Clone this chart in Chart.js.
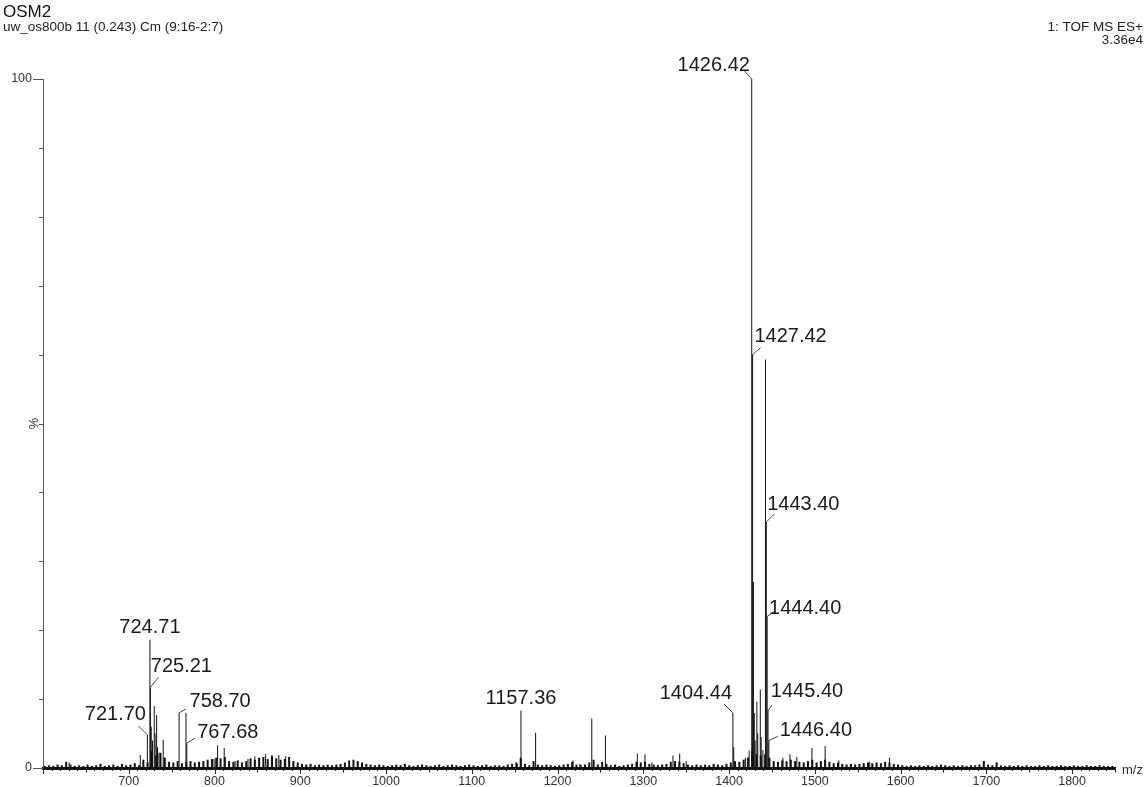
<!DOCTYPE html>
<html lang="en">
<head>
<meta charset="UTF-8">
<title>OSM2 - TOF MS ES+</title>
<script src="https://cdn.jsdelivr.net/npm/chart.js"></script>
<style>
  html, body { margin: 0; padding: 0; background: #fff; }
  #wrap { width: 1146px; height: 787px; position: relative; }
</style>
</head>
<body>
<div id="wrap"><canvas id="msChart"></canvas></div>
<script>
  // centroid peaks (m/z and relative intensity %)
  const peakMz = [
    630.4, 713.4, 721.70, 724.71, 725.21, 726.2, 727.7, 729.7, 730.7, 732.5, 733.5, 735.2, 740.2,
    758.70, 766.7, 767.68, 799.5, 803.6, 811.3, 824.0, 839.0, 847.0, 859.6, 867.0, 875.0, 883.0,
    1153.0, 1157.36, 1174.4, 1218.0, 1226.0, 1239.9, 1255.8, 1293.0, 1302.0, 1310.0, 1334.6, 1342.4, 1350.0,
    1404.44, 1405.4, 1419.0, 1423.4, 1426.42, 1427.42, 1428.42, 1429.4, 1430.4, 1432.4, 1433.4, 1436.4,
    1437.4, 1439.4, 1442.41, 1443.40, 1444.40, 1445.40, 1446.40, 1462.8, 1471.0, 1479.0, 1496.6,
    1512.0, 1528.0, 1564.0, 1587.0, 1697.0, 1712.0
  ];
  const peakInt = [
    0.8, 1.9, 4.8, 18.6, 11.7, 6.0, 4.0, 9.0, 5.0, 7.7, 3.0, 2.2, 4.1,
    8.0, 8.0, 3.6, 1.3, 3.3, 2.9, 1.0, 1.3, 1.7, 2.0, 1.9, 1.9, 1.7,
    0.6, 8.3, 5.1, 1.1, 0.6, 7.2, 4.7, 2.1, 2.0, 0.8, 1.8, 2.1, 1.0,
    8.0, 3.0, 1.5, 2.5, 100, 60.0, 27.0, 8.0, 4.0, 9.6, 5.0, 11.4,
    4.5, 2.6, 59.3, 35.7, 22.0, 8.3, 4.0, 1.5, 2.0, 1.6, 2.9,
    3.2, 1.1, 0.9, 1.5, 1.0, 0.8
  ];

  // baseline noise, one reading every 5 m/z from 602 up to 1847
  const noiseStart = 602;
  const noiseStep = 5;
  const noiseInt = [
    0.3, 0.4, 0.3, 0.5, 0.4, 0.9, 0.5, 0.3, 0.4, 0.3, 0.5, 0.3, 0.4, 0.6, 0.3, 0.4, 0.5, 0.3, 0.6, 0.4, 0.5, 0.7, 0.4, 1.2, 0.8,
    2.5, 1.8, 2.2, 1.5, 0.9, 0.8, 1.0, 0.7, 0.9, 1.0, 0.8, 0.9, 1.0, 1.2, 1.3, 1.5, 1.4, 1.6, 1.0, 0.9, 1.1, 0.8, 1.0, 1.4, 1.2,
    1.5, 1.6, 1.3, 1.7, 1.4, 1.2, 1.3, 1.6, 1.0, 0.8, 0.6, 0.5, 0.6, 0.4, 0.5, 0.4, 0.5, 0.4, 0.5, 0.6, 0.8, 1.1, 1.2, 1.0, 0.8,
    0.6, 0.5, 0.4, 0.5, 0.4, 0.3, 0.4, 0.5, 0.4, 0.6, 0.4, 0.3, 0.4, 0.5, 0.4, 0.3, 0.4, 0.5, 0.3, 0.4, 0.5, 0.4, 0.3, 0.4, 0.5,
    0.4, 0.3, 0.4, 0.5, 0.3, 0.4, 0.4, 0.3, 0.5, 0.6, 0.8, 1.5, 0.6, 0.4, 1.0, 0.5, 0.4, 0.5, 0.4, 0.3, 0.4, 0.5, 0.6, 0.9, 0.5,
    0.4, 0.5, 0.8, 1.2, 0.5, 0.9, 0.6, 0.4, 0.5, 0.3, 0.4, 0.5, 0.6, 0.9, 0.8, 0.9, 0.6, 0.5, 0.4, 0.5, 0.6, 0.9, 1.0, 0.9, 0.7,
    0.5, 0.4, 0.5, 0.4, 0.5, 0.4, 0.6, 0.5, 0.4, 0.6, 0.8, 1.0, 0.9, 1.2, 1.5, 2.5, 2.0, 1.8, 2.0, 1.5, 1.0, 0.9, 1.1, 1.0, 1.2,
    1.0, 0.9, 0.8, 1.0, 1.2, 0.8, 1.0, 1.2, 0.9, 0.7, 0.8, 0.6, 0.5, 0.6, 0.5, 0.6, 0.7, 0.8, 0.7, 0.8, 0.7, 0.9, 0.8, 0.6, 0.5,
    0.4, 0.3, 0.4, 0.3, 0.4, 0.3, 0.4, 0.3, 0.4, 0.5, 0.4, 0.3, 0.4, 0.3, 0.4, 0.3, 0.4, 0.4, 0.5, 1.0, 0.5, 0.4, 0.8, 0.4, 0.3,
    0.4, 0.3, 0.4, 0.3, 0.4, 0.3, 0.3, 0.4, 0.3, 0.4, 0.3, 0.3, 0.4, 0.3, 0.3, 0.4, 0.3, 0.3, 0.4, 0.3, 0.3, 0.4, 0.3, 0.3, 0.3
  ];

  // peaks that carry an m/z label
  const labelledMz = [1426.42, 1427.42, 1443.40, 1444.40, 1445.40, 1446.40, 1404.44, 1157.36,
                      724.71, 725.21, 721.70, 758.70, 767.68];

  const xTickLabels = [700, 800, 900, 1000, 1100, 1200, 1300, 1400, 1500, 1600, 1700, 1800];
  const yTickLabels = { 0: '0', 100: '100' };

  const titleText = 'OSM2';
  const subtitleText = 'uw_os800b 11 (0.243) Cm (9:16-2:7)';
  const scanText = '1: TOF MS ES+';
  const scaleText = '3.36e4';

  // where each label sits relative to its peak top (text centre, leader start), px
  const labelPlacement = {
    '1426.42': { dx: -38, dy: -14, lx: -8, ly: -9 },
    '1427.42': { dx: 38, dy: -18, lx: 8, ly: -7 },
    '1443.40': { dx: 37, dy: -18, lx: 8, ly: -8 },
    '1444.40': { dx: 38, dy: -8, lx: 7, ly: -5 },
    '1445.40': { dx: 39, dy: -19, lx: 4, ly: -6 },
    '1446.40': { dx: 47, dy: -10, lx: 9, ly: -4 },
    '1404.44': { dx: -37, dy: -19, lx: -9, ly: -9 },
    '1157.36': { dx: 0, dy: -12 },
    '724.71': { dx: 0, dy: -12 },
    '725.21': { dx: 31, dy: -21, lx: 8, ly: -10 },
    '721.70': { dx: -32, dy: -20, lx: -9, ly: -9 },
    '758.70': { dx: 41, dy: -11, lx: 7, ly: -4 },
    '767.68': { dx: 41, dy: -11, lx: 8, ly: -5 }
  };

  const FONT = '"Liberation Sans", Arial, sans-serif';

  const peakPoints = peakMz.map((mz, i) => ({ x: mz, y: peakInt[i] }));
  const noisePoints = noiseInt.map((v, i) => ({ x: noiseStart + i * noiseStep, y: v }));

  const decorPlugin = {
    id: 'decor',
    afterDraw(chart) {
      const c = chart.ctx;
      const xs = chart.scales.x;
      const ys = chart.scales.y;
      const area = chart.chartArea;
      c.save();

      // x tick marks: every 10, longer at 50 and 100
      c.strokeStyle = '#222';
      c.lineWidth = 1;
      xs.ticks.forEach(t => {
        const px = Math.round(xs.getPixelForValue(t.value)) + 0.5;
        const len = t.value % 100 === 0 ? 6 : (t.value % 50 === 0 ? 4.5 : 3);
        c.beginPath();
        c.moveTo(px, area.bottom);
        c.lineTo(px, area.bottom + len);
        c.stroke();
      });

      // y tick marks
      c.strokeStyle = '#555';
      ys.ticks.forEach(t => {
        const py = Math.round(ys.getPixelForValue(t.value)) + 0.5;
        const len = (t.value === 0 || t.value === 100) ? 10 : 4;
        c.beginPath();
        c.moveTo(area.left - len, py);
        c.lineTo(area.left, py);
        c.stroke();
      });

      // "%" axis label, rotated, at the 50 tick
      c.fillStyle = '#333';
      c.font = '13px ' + FONT;
      c.save();
      c.translate(area.left - 10, ys.getPixelForValue(50));
      c.rotate(Math.PI / 2);
      c.textAlign = 'center';
      c.textBaseline = 'middle';
      c.fillText('%', 0, 0);
      c.restore();

      // m/z
      c.textAlign = 'left';
      c.textBaseline = 'middle';
      c.fillText('m/z', area.right + 7, area.bottom + 2);

      // header
      c.fillStyle = '#111';
      c.font = '17px ' + FONT;
      c.fillText(titleText, 3, 12);
      c.font = '13.5px ' + FONT;
      c.fillStyle = '#222';
      c.fillText(subtitleText, 3, 27);
      c.textAlign = 'right';
      c.fillText(scanText, 1143, 27);
      c.fillText(scaleText, 1143, 40);

      // peak labels with leaders
      c.font = '20px ' + FONT;
      c.fillStyle = '#1a1a1a';
      c.textAlign = 'center';
      c.textBaseline = 'middle';
      labelledMz.forEach(mz => {
        const idx = peakMz.indexOf(mz);
        const text = mz.toFixed(2);
        const p = labelPlacement[text];
        const px = xs.getPixelForValue(mz);
        const py = ys.getPixelForValue(peakInt[idx]);
        if (p.lx !== undefined) {
          c.strokeStyle = '#444';
          c.beginPath();
          c.moveTo(px + p.lx, py + p.ly);
          c.lineTo(px, py);
          c.stroke();
        }
        c.fillText(text, px + p.dx, py + p.dy);
      });

      c.restore();
    }
  };

  new Chart(document.getElementById('msChart'), {
    type: 'bar',
    data: {
      datasets: [
        { data: noisePoints, backgroundColor: '#111', borderWidth: 0, barThickness: 2, grouped: false, inflateAmount: 0 },
        { data: peakPoints, backgroundColor: '#111', borderWidth: 0, barThickness: 1, grouped: false, inflateAmount: 0 }
      ]
    },
    options: {
      responsive: true,
      maintainAspectRatio: false,
      animation: false,
      layout: { padding: { top: 79, right: 31, left: 0, bottom: 0 } },
      plugins: { legend: { display: false }, tooltip: { enabled: false } },
      scales: {
        x: {
          type: 'linear',
          min: 600,
          max: 1850,
          offset: false,
          grid: { display: true, offset: false, drawOnChartArea: false, drawTicks: true, tickLength: 4, color: 'rgba(0,0,0,0)' },
          border: { display: true, color: '#111', width: 3 },
          ticks: {
            stepSize: 10,
            autoSkip: false,
            maxRotation: 0,
            padding: 2,
            color: '#333',
            font: { family: FONT, size: 12.5 },
            callback: v => xTickLabels.includes(v) ? String(v) : ''
          },
          afterFit: s => { s.height = 19; }
        },
        y: {
          min: 0,
          max: 100,
          grid: { display: true, drawOnChartArea: false, drawTicks: true, tickLength: 10, color: 'rgba(0,0,0,0)' },
          border: { display: true, color: '#555', width: 1 },
          ticks: {
            stepSize: 10,
            padding: 1,
            color: '#333',
            font: { family: FONT, size: 12.5 },
            callback: v => yTickLabels[v] !== undefined ? yTickLabels[v] : ''
          },
          afterFit: s => { s.width = 43; }
        }
      }
    },
    plugins: [decorPlugin]
  });
</script>
</body>
</html>
